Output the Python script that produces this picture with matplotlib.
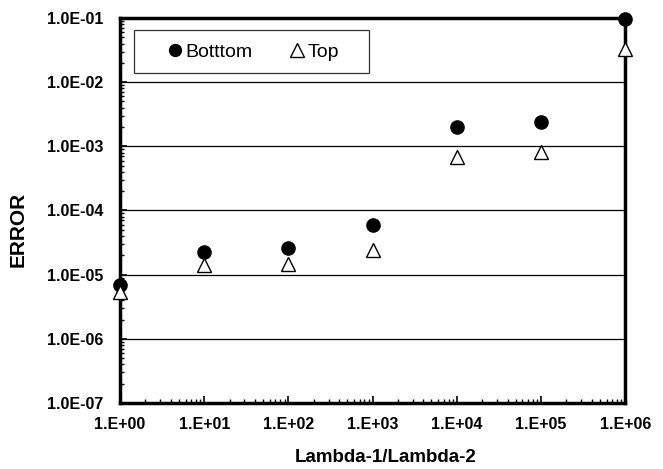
import math
import matplotlib
matplotlib.use("Agg")
import matplotlib.pyplot as plt
from matplotlib.patches import Rectangle
from matplotlib.ticker import LogLocator, FuncFormatter, NullFormatter

plt.rcParams['font.family'] = ['Liberation Sans', 'DejaVu Sans']

x_vals = [1e0, 1e1, 1e2, 1e3, 1e4, 1e5, 1e6]
bottom_err = [6.8e-6, 2.25e-5, 2.6e-5, 5.9e-5, 2.0e-3, 2.4e-3, 9.8e-2]
top_err = [5.3e-6, 1.4e-5, 1.47e-5, 2.4e-5, 6.8e-4, 8.3e-4, 3.3e-2]

fig = plt.figure(figsize=(6.63, 4.69), dpi=100)
ax = fig.add_axes([0.181, 0.1407, 0.762, 0.821])
ax.set_xscale('log')
ax.set_yscale('log')
ax.set_xlim(1e0, 1e6)
ax.set_ylim(1e-7, 1e-1)

ax.yaxis.grid(True, which='major', color='black', linewidth=0.9)
ax.set_axisbelow(True)

ax.plot(x_vals, bottom_err, linestyle='none', marker='o', markersize=9.5,
        color='black', label='Botttom', clip_on=False, zorder=3)
ax.plot(x_vals, top_err, linestyle='none', marker='^', markersize=10.5,
        markerfacecolor='white', markeredgecolor='black', markeredgewidth=1.0,
        label='Top', clip_on=False, zorder=3)

for s in ax.spines.values():
    s.set_linewidth(2.5)

ax.xaxis.set_major_locator(LogLocator(base=10, numticks=10))
ax.xaxis.set_minor_locator(LogLocator(base=10, subs=range(2, 10), numticks=20))
ax.yaxis.set_major_locator(LogLocator(base=10, numticks=10))
ax.yaxis.set_minor_locator(LogLocator(base=10, subs=range(2, 10), numticks=20))
ax.xaxis.set_minor_formatter(NullFormatter())
ax.yaxis.set_minor_formatter(NullFormatter())

def xfmt(v, pos):
    e = int(round(math.log10(v)))
    return "1.E+%02d" % e if e >= 0 else "1.E-%02d" % (-e)

def yfmt(v, pos):
    e = int(round(math.log10(v)))
    return "1.0E-%02d" % (-e) if e < 0 else "1.0E+%02d" % e

ax.xaxis.set_major_formatter(FuncFormatter(xfmt))
ax.yaxis.set_major_formatter(FuncFormatter(yfmt))

ax.tick_params(axis='both', which='both', direction='in', top=False, right=False)
ax.tick_params(axis='both', which='major', length=5, width=1.2, labelsize=11.5)
ax.tick_params(axis='both', which='minor', length=3, width=1.0)
ax.tick_params(axis='x', which='major', pad=10)
ax.tick_params(axis='y', which='major', pad=12)
for lab in ax.get_xticklabels() + ax.get_yticklabels():
    lab.set_fontweight('bold')

ax.set_xlabel('Lambda-1/Lambda-2', fontsize=13.5, fontweight='bold')
ax.xaxis.set_label_coords(0.525, -0.12, transform=ax.transAxes)
ax.xaxis.label.set_va('top')
ax.set_ylabel('ERROR', fontsize=15, fontweight='bold')
ax.yaxis.set_label_coords(-0.182, 0.452, transform=ax.transAxes)

# legend frame drawn separately to match the original's wide left padding
ax.add_patch(Rectangle((0.0277, 0.857), 0.465, 0.112, transform=ax.transAxes,
                       facecolor='white', edgecolor='#333333', linewidth=0.9,
                       zorder=4, clip_on=False))
leg = ax.legend(loc='center', bbox_to_anchor=(0.262, 0.912), ncol=2,
                fontsize=14, frameon=False,
                handletextpad=0.05, columnspacing=1.8, borderpad=0.0,
                handlelength=1.0, markerscale=0.9, borderaxespad=0)
leg.set_zorder(5)

fig.savefig('out.png', dpi=100)
